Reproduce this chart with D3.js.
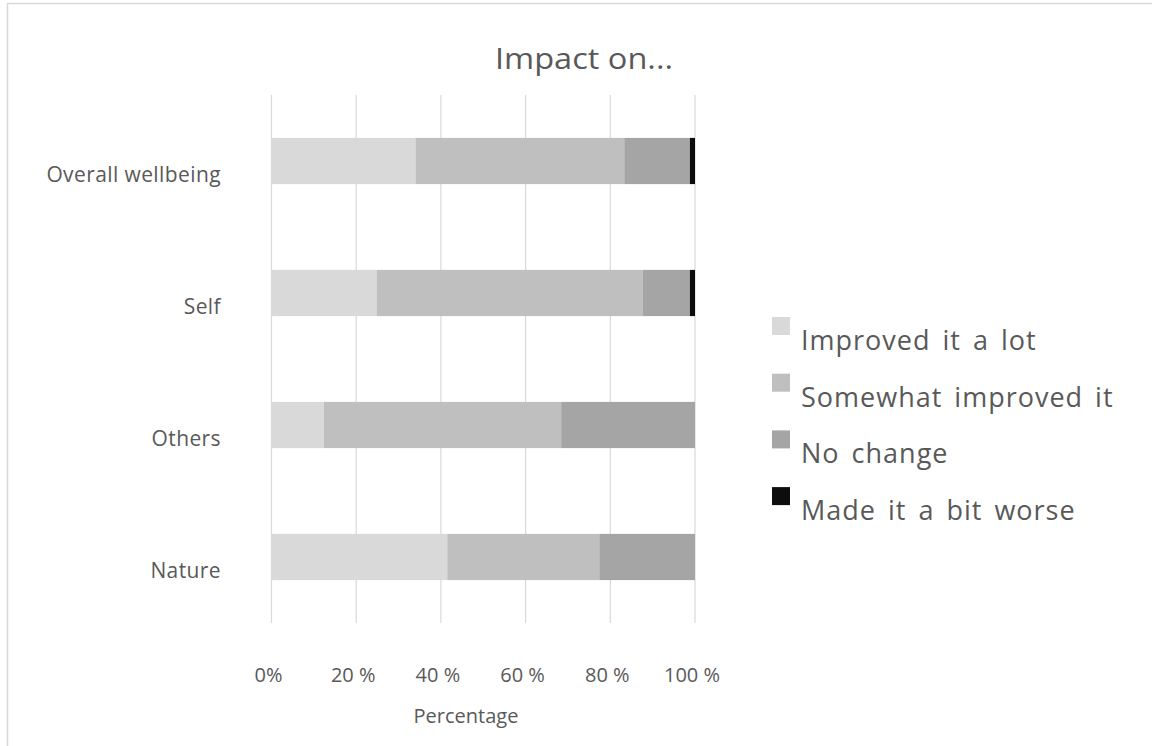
<!DOCTYPE html>
<html>
<head>
<meta charset="utf-8">
<script src="https://cdn.jsdelivr.net/npm/d3@7"></script>
<style>
  html, body { margin: 0; padding: 0; background: #fff; }
  svg { display: block; font-family: "Open Sans", "Noto Sans", sans-serif; }
</style>
</head>
<body>
<svg id="chart" width="1152" height="746"></svg>
<script>
// Survey responses: share of respondents per impact level (percent)
const categories = ["Overall wellbeing", "Self", "Others", "Nature"];
const seriesNames = ["Improved it a lot", "Somewhat improved it", "No change", "Made it a bit worse"];
const improvedALot = [34.0, 24.8, 12.4, 41.5];
const somewhatImproved = [49.3, 62.8, 56.0, 35.9];
const noChange = [15.5, 11.2, 31.6, 22.6];
const madeWorse = [1.2, 1.2, 0, 0];
const tickValues = [0, 20, 40, 60, 80, 100];
const tickLabels = ["0%", "20 %", "40 %", "60 %", "80 %", "100 %"];
const seriesColors = ["#d9d9d9", "#bfbfbf", "#a5a5a5", "#0d0d0d"];

const textColor = "#595959";
const svg = d3.select("#chart");

// outer chart frame
svg.append("rect")
  .attr("x", 7.5).attr("y", 3.5)
  .attr("width", 1200).attr("height", 800)
  .attr("fill", "none").attr("stroke", "#d9d9d9").attr("stroke-width", 1.5);

const plot = { left: 271.5, right: 695, top: 95, bottom: 623 };

const x = d3.scaleLinear().domain([0, 100]).range([plot.left, plot.right]);
const y = d3.scaleBand().domain(categories)
  .range([plot.top, plot.bottom])
  .paddingInner(0.65).paddingOuter(0.325);

// vertical gridlines
svg.append("g")
  .selectAll("line")
  .data(tickValues)
  .join("line")
  .attr("x1", d => x(d)).attr("x2", d => x(d))
  .attr("y1", plot.top).attr("y2", plot.bottom)
  .attr("stroke", "#d9d9d9").attr("stroke-width", 1.2);

// stacked bars
const rows = categories.map((c, i) => ({
  category: c,
  [seriesNames[0]]: improvedALot[i],
  [seriesNames[1]]: somewhatImproved[i],
  [seriesNames[2]]: noChange[i],
  [seriesNames[3]]: madeWorse[i]
}));
const stacked = d3.stack().keys(seriesNames)(rows);

svg.append("g")
  .selectAll("g")
  .data(stacked)
  .join("g")
  .attr("fill", (d, i) => seriesColors[i])
  .selectAll("rect")
  .data(d => d.filter(s => s[1] - s[0] > 0))
  .join("rect")
  .attr("x", d => x(d[0]))
  .attr("width", d => x(d[1]) - x(d[0]))
  .attr("y", d => y(d.data.category))
  .attr("height", y.bandwidth());

// x axis tick labels
const xAxis = d3.axisBottom(x)
  .tickValues(tickValues)
  .tickFormat((d, i) => tickLabels[i])
  .tickSize(0)
  .tickPadding(0);
const gx = svg.append("g")
  .attr("transform", `translate(-3.5, 682)`)
  .call(xAxis);
gx.select(".domain").remove();
gx.selectAll("text")
  .attr("dy", 0)
  .attr("fill", textColor)
  .attr("font-size", 20)
  .attr("font-family", "'Open Sans', sans-serif");

// category labels
svg.append("g")
  .selectAll("text")
  .data(categories)
  .join("text")
  .attr("x", 221)
  .attr("y", d => y(d) + y.bandwidth() / 2 + 21)
  .attr("text-anchor", "end")
  .attr("fill", textColor)
  .attr("font-size", 21)
  .attr("letter-spacing", 0.4)
  .text(d => d);

// title
svg.append("text")
  .attr("x", 584).attr("y", 69)
  .attr("text-anchor", "middle")
  .attr("fill", textColor)
  .attr("font-size", 29)
  .attr("textLength", 178)
  .attr("lengthAdjust", "spacingAndGlyphs")
  .text("Impact on...");

// axis title
svg.append("text")
  .attr("x", 466).attr("y", 723)
  .attr("text-anchor", "middle")
  .attr("fill", textColor)
  .attr("font-size", 20)
  .text("Percentage");

// legend
const legend = svg.append("g")
  .selectAll("g")
  .data(seriesNames)
  .join("g")
  .attr("transform", (d, i) => `translate(772, ${350 + i * 56.7})`);
legend.append("rect")
  .attr("x", 0).attr("y", -33)
  .attr("width", 18).attr("height", 18)
  .attr("fill", (d, i) => seriesColors[i]);
legend.append("text")
  .attr("x", 29).attr("y", 0)
  .attr("fill", textColor)
  .attr("font-size", 27)
  .attr("letter-spacing", 1)
  .attr("word-spacing", 4)
  .text(d => d);
</script>
</body>
</html>
